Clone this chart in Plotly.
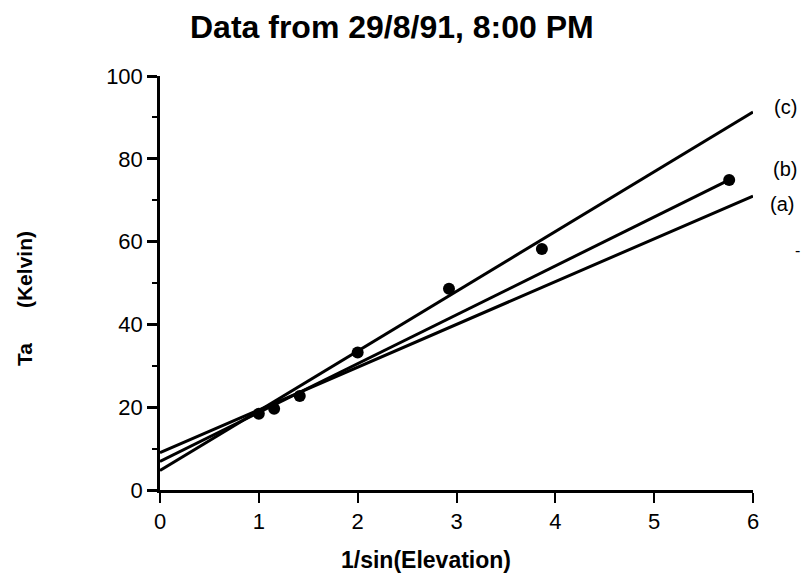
import plotly.graph_objects as go

# Measured data points: x = 1/sin(elevation), y = antenna temperature (K)
pts_x = [1.0, 1.155, 1.414, 2.0, 2.924, 3.864, 5.759]
pts_y = [18.4, 19.6, 22.7, 33.2, 48.6, 58.2, 74.9]

# Model lines (endpoints)
line_a_x = [0, 6]
line_a_y = [9.0, 71.0]
line_b_x = [0, 5.759]
line_b_y = [6.9, 74.9]
line_c_x = [0, 6]
line_c_y = [4.7, 91.3]

line_labels = ["(c)", "(b)", "(a)"]
x_ticks = [0, 1, 2, 3, 4, 5, 6]
y_ticks = [0, 20, 40, 60, 80, 100]

FONT = "Liberation Sans, Arial, Helvetica, sans-serif"

W, H = 801, 580
L, R, T, B = 160, 48, 76, 90
PW, PH = W - L - R, H - T - B


def px_x(sx):  # screen x -> paper x
    return (sx - L) / PW


def px_y(sy):  # screen y -> paper y
    return (H - B - sy) / PH


fig = go.Figure()
for lx, ly in [(line_a_x, line_a_y), (line_b_x, line_b_y), (line_c_x, line_c_y)]:
    fig.add_trace(go.Scatter(x=lx, y=ly, mode="lines",
                             line=dict(color="black", width=3),
                             showlegend=False, hoverinfo="skip"))
fig.add_trace(go.Scatter(x=pts_x, y=pts_y, mode="markers",
                         marker=dict(color="black", size=12),
                         showlegend=False, cliponaxis=False))

fig.update_layout(
    width=W, height=H,
    margin=dict(l=L, r=R, t=T, b=B),
    plot_bgcolor="white", paper_bgcolor="white",
    font=dict(family=FONT, color="black"),
    showlegend=False,
)

fig.update_xaxes(range=[0, 6], tickvals=x_ticks, ticktext=[str(v) for v in x_ticks],
                 showgrid=False, zeroline=False, showline=True,
                 linecolor="black", linewidth=2.5,
                 ticks="outside", ticklen=10, tickwidth=2, tickcolor="black",
                 tickfont=dict(size=22, family=FONT, color="black"))
fig.update_yaxes(range=[0, 100], tickvals=y_ticks, ticktext=[str(v) for v in y_ticks],
                 showgrid=False, zeroline=False, showline=True,
                 linecolor="black", linewidth=2.5,
                 ticks="outside", ticklen=10, tickwidth=2.5, tickcolor="black",
                 tickfont=dict(size=22, family=FONT, color="black"),
                 minor=dict(dtick=10, ticks="outside", ticklen=5,
                            tickwidth=2, tickcolor="black", showgrid=False))

# chart title
fig.add_annotation(text="<b>Data from 29/8/91, 8:00 PM</b>", xref="paper", yref="paper",
                   x=px_x(392), y=px_y(27), xanchor="center", yanchor="middle",
                   showarrow=False, font=dict(size=32, family=FONT, color="black"))

# axis titles placed as annotations (positioned as in the original)
fig.add_annotation(text="<b>1/sin(Elevation)</b>", xref="paper", yref="paper",
                   x=px_x(426), y=px_y(560), xanchor="center", yanchor="middle",
                   showarrow=False, font=dict(size=23, family=FONT, color="black"))
fig.add_annotation(text="<b>Ta" + "\u00a0" * 6 + "(Kelvin)</b>", xref="paper", yref="paper",
                   x=px_x(24), y=px_y(299), xanchor="center", yanchor="middle",
                   textangle=-90, showarrow=False,
                   font=dict(size=21, family=FONT, color="black"))

# line labels at the right
label_pos = [(785, 107), (785, 169), (782, 204)]
for txt, (sx, sy) in zip(line_labels, label_pos):
    fig.add_annotation(text=txt, xref="paper", yref="paper", x=px_x(sx), y=px_y(sy),
                       xanchor="center", yanchor="middle", showarrow=False,
                       font=dict(size=20, family=FONT, color="black"))
fig.add_annotation(text="-", xref="paper", yref="paper", x=px_x(793), y=px_y(250),
                   xanchor="left", yanchor="middle", showarrow=False,
                   font=dict(size=16, family=FONT, color="black"))

fig.write_html("out.html",
               config={"displayModeBar": False},
               post_script="document.body.style.margin='0';"
                           "document.body.style.overflow='hidden';")
